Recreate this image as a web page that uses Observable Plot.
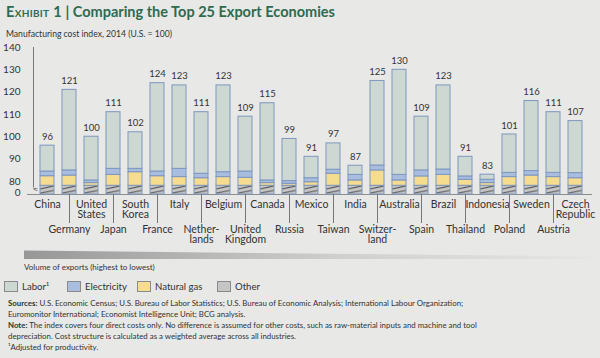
<!DOCTYPE html>
<html><head><meta charset="utf-8">
<script src="https://cdn.jsdelivr.net/npm/d3@7"></script>
<script src="https://cdn.jsdelivr.net/npm/@observablehq/plot@0.6"></script>
<style>
body{margin:0;background:#e8e8e7;font-family:Lato,"Open Sans",sans-serif;color:#333}
#wrap{position:relative;width:600px;height:358px;overflow:hidden;background:#e8e8e7}
#title{position:absolute;left:6px;top:3px;font-size:14.5px;font-weight:700;color:#2f6b50;white-space:nowrap;line-height:18px}
#title .sc{font-variant:small-caps;letter-spacing:0.3px}
#sub{position:absolute;left:6px;top:29px;font-size:8.6px;line-height:11px;white-space:nowrap}
#chart{position:absolute;left:0;top:0}
#wedge{position:absolute;left:24px;top:250px}
#vol{position:absolute;left:24px;top:262px;font-size:8px;line-height:10px;white-space:nowrap}
#legend{position:absolute;left:0;top:280px;width:600px;height:14px;font-size:9.6px;line-height:13px}
#legend .it{position:absolute;top:0;display:flex;align-items:center}
#legend .sw{width:14px;height:11px;border:1px solid #8a8a8a;box-sizing:border-box;margin-right:4px}
#notes{position:absolute;left:8px;top:298px;font-size:7.85px;line-height:11px;white-space:nowrap}
#notes b{font-weight:700}
</style></head><body>
<div id="wrap">
  <div id="title"><span class="sc">Exhibit 1</span> | Comparing the Top 25 Export Economies</div>
  <div id="sub">Manufacturing cost index, 2014 (U.S. = 100)</div>
  <div id="chart"></div>
  <svg id="wedge" width="570" height="10">
    <defs><linearGradient id="wg" x1="0" x2="1" y1="0" y2="0">
      <stop offset="0" stop-color="#979797"/><stop offset="0.55" stop-color="#cfcfcf"/><stop offset="1" stop-color="#e6e6e5"/>
    </linearGradient></defs>
    <polygon points="0,0.5 570,6.5 570,9 0,9" fill="url(#wg)"/>
  </svg>
  <div id="vol">Volume of exports (highest to lowest)</div>
  <div id="legend"></div>
  <div id="notes">
    <b>Sources:</b> U.S. Economic Census; U.S. Bureau of Labor Statistics; U.S. Bureau of Economic Analysis; International Labour Organization;<br>
    Euromonitor International; Economist Intelligence Unit; BCG analysis.<br>
    <b>Note:</b> The index covers four direct costs only. No difference is assumed for other costs, such as raw-material inputs and machine and tool<br>
    depreciation. Cost structure is calculated as a weighted average across all industries.<br>
    ¹Adjusted for productivity.
  </div>
</div>
<script>
const countries = ["China","Germany","United States","Japan","South Korea","France","Italy","Netherlands","Belgium","United Kingdom","Canada","Russia","Mexico","Taiwan","India","Switzerland","Australia","Spain","Brazil","Thailand","Indonesia","Poland","Sweden","Austria","Czech Republic"];
const tickLabels = ["China","Germany","United\nStates","Japan","South\nKorea","France","Italy","Nether-\nlands","Belgium","United\nKingdom","Canada","Russia","Mexico","Taiwan","India","Switzer-\nland","Australia","Spain","Brazil","Thailand","Indonesia","Poland","Sweden","Austria","Czech\nRepublic"];
const totals = [96,121,100,111,102,124,123,111,123,109,115,99,91,97,87,125,130,109,123,91,83,101,116,111,107];
const otherCost = [78,78,78,78,78,78,78,78,78,78,78,78,78,78,78,78,78,78,78,78,78,78,78,78,78];
const naturalGas = [4.3,4.6,1.2,4.9,6.1,4.3,3.9,3.4,3.9,3.6,1.2,0.9,1.6,5.4,2.4,6.9,2.4,4.2,4.9,2.7,1.2,3.9,4.6,3.9,3.4];
const electricity = [2.1,2.3,1.2,2.7,1.5,2.1,3.7,2.0,2.2,2.8,1.2,1.2,1.8,1.8,2.5,2.2,2.5,2.7,2.4,1.5,1.5,1.9,2.0,1.9,2.3];
const labor = [11.6,36.1,19.6,25.4,16.4,39.6,37.4,27.6,38.9,24.6,34.6,18.9,9.6,11.8,4.1,37.9,47.1,24.1,37.7,8.8,2.3,17.2,31.4,27.2,23.3];
const seriesNames = ["Labor","Electricity","Natural gas","Other"];
const legendLabels = ["Labor¹","Electricity","Natural gas","Other"];
const seriesColors = ["#cdd8d2","#a9bddf","#f6dc8f","url(#brk)"];
const legendColors = ["#cdd8d2","#a9bddf","#f6dc8f","#c6c6c6"];
const yTicks = [80,90,100,110,120,130,140];
const yBaseTick = [0];
const breakAt = 75;      // axis break: values below are compressed
const breakSquash = 0.012;

const rows = countries.flatMap((c,i)=>[
  {country:c, series:"Other", value:otherCost[i]},
  {country:c, series:"Natural gas", value:naturalGas[i]},
  {country:c, series:"Electricity", value:electricity[i]},
  {country:c, series:"Labor", value:labor[i]}
]);
const totalRows = countries.map((c,i)=>({country:c, total:totals[i]}));
const labelOf = new Map(countries.map((c,i)=>[c,tickLabels[i]]));
const topRow = countries.filter((d,i)=>i%2===0);
const bottomRow = countries.filter((d,i)=>i%2===1);
const squash = v => v >= breakAt ? v : breakAt - (breakAt - v) * breakSquash;

const chart = Plot.plot({
  width:600, height:250, marginTop:47, marginBottom:56, marginLeft:27, marginRight:8,
  style:{background:"transparent", fontFamily:"Lato, 'Open Sans', sans-serif", color:"#333"},
  x:{domain:countries, paddingInner:0.38, paddingOuter:0.19, insetLeft:3, axis:null},
  y:{transform:squash, domain:[squash(0), 140], axis:null},
  color:{domain:seriesNames, range:seriesColors},
  marks:[
    Plot.ruleY([0], {stroke:"#8c8c8c"}),
    Plot.barY(rows, {x:"country", y:"value", fill:"series", stroke:"#7d97c0", strokeWidth:1,
      order:["Other","Natural gas","Electricity","Labor"]}),
    Plot.text(totalRows, {x:"country", y:"total", text:d=>String(d.total), dy:-9, fontSize:9.5, fill:"#333"}),
    Plot.axisY({ticks:yTicks, tickSize:0, tickPadding:7, fontSize:10, fill:"#333", label:null}),
    Plot.text(yBaseTick, {y:d=>d, text:d=>String(d), frameAnchor:"left", textAnchor:"end", dx:-7, dy:-2, fontSize:10, fill:"#333"}),
    Plot.ruleX([countries[0]], {x:d=>d, y1:77, y2:140, dx:-14, stroke:"#777"}),
    Plot.text([countries[0]], {x:d=>d, y:76.2, text:()=>"≈", dx:-12, fontSize:10, fill:"#555"}),
    Plot.axisX({ticks:topRow, tickSize:0, tickPadding:6, tickFormat:d=>labelOf.get(d), fontSize:10.5, fill:"#333", label:null}),
    Plot.axisX({ticks:bottomRow, tickSize:29, tickPadding:2, tickFormat:d=>labelOf.get(d), fontSize:10.5, fill:"#333", stroke:"#777", label:null})
  ]
});

const svg = d3.select(chart);
const defs = svg.insert("defs", ":first-child");
const pat = defs.append("pattern").attr("id","brk").attr("patternUnits","objectBoundingBox")
  .attr("width",1).attr("height",0.5);
pat.append("rect").attr("width",40).attr("height",20).attr("fill","#c6c6c6");
pat.append("path").attr("d","M0,3.7 L15,0.5").attr("stroke","#555").attr("stroke-width",1.1).attr("fill","none");
document.getElementById("chart").appendChild(chart);

const leg = d3.select("#legend");
const legendLeft = [4, 67, 137, 217];
seriesNames.forEach((s,i)=>{
  const it = leg.append("div").attr("class","it").style("left", legendLeft[i]+"px");
  it.append("div").attr("class","sw").style("background", legendColors[i]);
  it.append("span").text(legendLabels[i]);
});
</script>
</body></html>
